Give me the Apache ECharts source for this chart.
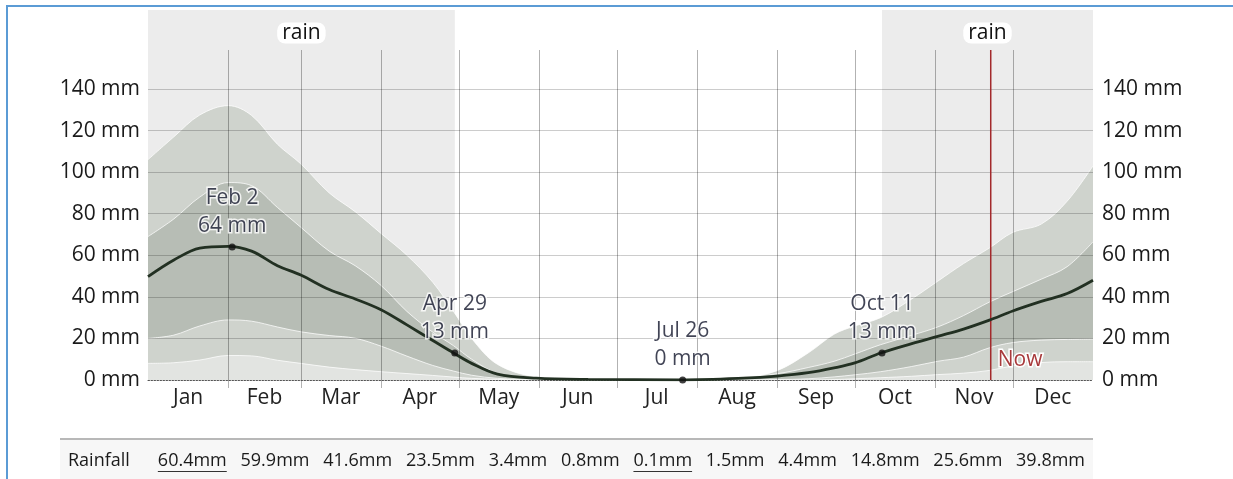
<!DOCTYPE html>
<html><head><meta charset="utf-8">
<script src="https://cdn.jsdelivr.net/npm/echarts@6/dist/echarts.min.js"></script>
<style>html,body{margin:0;padding:0;background:#fff;}#c{width:1233px;height:479px;}</style>
</head><body><div id="c"></div>
<script>
// ---------- data ----------
const months = ['Jan','Feb','Mar','Apr','May','Jun','Jul','Aug','Sep','Oct','Nov','Dec'];
const monthDays = [31,28,31,30,31,30,31,31,30,31,30,31];
const sampleDays = [0,10,20,31,40,50,59,70,80,90,100,110,118,125,135,150,170,206,230,243,255,265,273,283,295,305,315,325,334,345,355,365];
const meanRain = [49.7,57.7,63.5,64.3,62.0,55.0,50.5,43.5,39.0,33.8,26.5,19.0,13.0,8.0,2.8,0.9,0.3,0.1,0.9,1.9,3.5,5.8,8.2,13.0,17.5,21.0,24.5,28.8,33.2,37.8,41.6,48.0];
const p90Rain = [106,117,127.5,132,127.3,113.4,104,90,81,70.5,60,47,33,20,7.5,1.5,0.3,0.2,1.2,4.5,13,22,26,30,39,47.5,56,63.5,71,75,86,103];
const p75Rain = [69,77.5,88,95,93.5,83,73.5,62,55,45.5,33,23,16.5,10,3.2,0.8,0.2,0.1,1.5,3,6,9,12.5,17,21.5,25.5,31,37.5,42.5,48.5,54.5,66.5];
const p25Rain = [20,21.6,26,28.9,28.3,25.5,23.2,21.4,20.1,16.3,11.5,7,4.3,2.3,0.8,0.2,0,0,0,0.2,0.6,1.5,2.5,4,6.5,9,11,15.5,18,19.2,19.5,19.7];
const p10Rain = [8,8.3,9.6,11.8,11.6,9.5,8,6.2,5,4,3.1,2.2,1.4,0.8,0.3,0,0,0,0,0,0,0.2,0.6,1.1,1.8,2.6,3.3,4.6,6.8,8.4,8.8,8.8];
const annotationDates = ['Feb 2','Apr 29','Jul 26','Oct 11'];
const annotationValues = [64,13,0,13];
const rainEnd = 'Apr 29';
const rainStart = 'Oct 11';
const nowDate = 'Nov 22';
const tableLabel = 'Rainfall';
const monthlyRainfall = [60.4,59.9,41.6,23.5,3.4,0.8,0.1,1.5,4.4,14.8,25.6,39.8];

// ---------- helpers ----------
const FONT = '"Open Sans", "Noto Sans", sans-serif';
const monthStart = []; let acc = 0;
monthDays.forEach(d => { monthStart.push(acc); acc += d; });
const yearLen = acc;
const monthMid = monthStart.map((s, i) => s + monthDays[i] / 2);
function dayOf(str) { const [m, d] = str.split(' '); return monthStart[months.indexOf(m)] + (+d) - 0.5; }
const pairs = arr => sampleDays.map((d, i) => [d, arr[i]]);

const chart = echarts.init(document.getElementById('c'));

function bandSeries(arr, color) {
  return {
    type: 'line', data: pairs(arr), smooth: 0.35, showSymbol: false, silent: true, z: 1,
    lineStyle: { color: 'rgba(255,255,255,0.75)', width: 1 },
    areaStyle: { color: color, opacity: 1 }
  };
}

// ---------- table (graphic) ----------
const ctx = document.createElement('canvas').getContext('2d');
const tFont = '18px ' + FONT; ctx.font = tFont;
const items = [tableLabel].concat(monthlyRainfall.map(v => v.toFixed(1) + 'mm'));
const widths = items.map(t => ctx.measureText(t).width);
const rowLeft = 68, rowRight = 1085, labelGap = 28, rowY = 461;
const restW = widths.slice(1).reduce((a, b) => a + b, 0);
const gap = (rowRight - rowLeft - widths[0] - labelGap - restW) / (items.length - 2);
const maxI = monthlyRainfall.indexOf(Math.max(...monthlyRainfall)) + 1;
const minI = monthlyRainfall.indexOf(Math.min(...monthlyRainfall)) + 1;
const graphics = [
  { type: 'rect', shape: { x: 7, y: 6, width: 1400, height: 800 }, style: { fill: 'none', stroke: '#5b9bd5', lineWidth: 2 }, z: 10 },
  { type: 'rect', shape: { x: 60, y: 440, width: 1033, height: 40 }, style: { fill: '#f7f7f7' } },
  { type: 'line', shape: { x1: 60, y1: 439, x2: 1093, y2: 439 }, style: { stroke: '#b8b8b8', lineWidth: 2 } }
];
let cx = rowLeft;
items.forEach((t, i) => {
  graphics.push({ type: 'text', x: cx, y: rowY, style: { text: t, font: tFont, fill: '#1a1a1a', align: 'left', textAlign: 'left', verticalAlign: 'middle', textVerticalAlign: 'middle' } });
  if (i === maxI || i === minI) {
    graphics.push({ type: 'line', shape: { x1: cx, y1: rowY + 10.5, x2: cx + widths[i], y2: rowY + 10.5 }, style: { stroke: '#333', lineWidth: 1 } });
  }
  cx += widths[i] + (i === 0 ? labelGap : gap);
});

const option = {
  animation: false,
  backgroundColor: '#fff',
  textStyle: { fontFamily: FONT },
  grid: { left: 148, right: 140, top: 89, bottom: 99, containLabel: false, outerBoundsMode: 'none' },
  xAxis: {
    type: 'value', min: 0, max: yearLen, z: 4,
    splitLine: { show: false }, axisTick: { show: false },
    axisLine: { show: true, onZero: true, lineStyle: { color: '#555', width: 1, type: [1.5, 1.5] } },
    axisLabel: {
      customValues: monthMid, margin: 8, fontSize: 21, fontFamily: FONT, color: '#222',
      formatter: v => { let bi = 0; monthMid.forEach((m, i) => { if (Math.abs(m - v) < Math.abs(monthMid[bi] - v)) bi = i; }); return months[bi]; }
    }
  },
  yAxis: [
    { type: 'value', min: 0, max: 140, interval: 20, position: 'left', z: 3,
      axisLine: { show: false }, axisTick: { show: false },
      splitLine: { show: true, showMinLine: false, lineStyle: { color: 'rgba(0,0,0,0.2)', width: 1 } },
      axisLabel: { formatter: '{value} mm', fontSize: 21, fontFamily: FONT, color: '#1a1a1a', margin: 8 } },
    { type: 'value', min: 0, max: 140, interval: 20, position: 'right', z: 3,
      axisLine: { show: false }, axisTick: { show: false }, splitLine: { show: false },
      axisLabel: { formatter: '{value} mm', fontSize: 21, fontFamily: FONT, color: '#1a1a1a', margin: 9 } }
  ],
  series: [
    { type: 'custom', z: 0, clip: false, silent: true,
      data: [[0, dayOf(rainEnd)], [dayOf(rainStart), yearLen]],
      renderItem: (params, api) => {
        const cs = params.coordSys;
        const x0 = api.coord([api.value(0), 0])[0], x1 = api.coord([api.value(1), 0])[0];
        const bottom = cs.y + cs.height, top = cs.y - 79;
        return { type: 'group', children: [
          { type: 'rect', shape: { x: x0, y: top, width: x1 - x0, height: bottom - top }, style: { fill: '#ececec' } },
          { type: 'text', x: (x0 + x1) / 2, y: cs.y - 56, style: { text: 'rain', font: '21px ' + FONT, fill: '#111', align: 'center', textAlign: 'center', verticalAlign: 'middle', textVerticalAlign: 'middle', backgroundColor: '#fff', borderRadius: 8, padding: [0, 5] } }
        ] };
      }
    },
    bandSeries(p90Rain, '#cfd3cd'),
    bandSeries(p75Rain, '#b7bdb5'),
    bandSeries(p25Rain, '#cfd3cd'),
    bandSeries(p10Rain, '#e2e4e1'),
    { type: 'custom', z: 3, clip: false, silent: true,
      data: monthStart.slice(1).map(d => [d]),
      renderItem: (params, api) => {
        const cs = params.coordSys;
        const x = Math.round(api.coord([api.value(0), 0])[0]) + 0.5;
        return { type: 'line', shape: { x1: x, y1: cs.y - 39, x2: x, y2: cs.y + cs.height + 8 }, style: { stroke: 'rgba(0,0,0,0.3)', lineWidth: 1 } };
      }
    },
    { type: 'custom', z: 4, clip: false, silent: true,
      data: [[dayOf(nowDate)]],
      renderItem: (params, api) => {
        const cs = params.coordSys;
        const x = api.coord([api.value(0), 0])[0];
        const bottom = cs.y + cs.height;
        return { type: 'group', children: [
          { type: 'line', shape: { x1: x, y1: cs.y - 39, x2: x, y2: bottom }, style: { stroke: '#a3292b', lineWidth: 1.5 } },
          { type: 'text', x: x + 7, y: bottom - 20, style: { text: 'Now', font: '21px ' + FONT, fill: '#a83a3c', align: 'left', textAlign: 'left', verticalAlign: 'middle', textVerticalAlign: 'middle', stroke: '#fff', lineWidth: 3 } }
        ] };
      }
    },
    { type: 'line', data: pairs(meanRain), smooth: 0.35, showSymbol: false, silent: true, z: 5,
      lineStyle: { color: '#223022', width: 2.8 } },
    { type: 'scatter', z: 6, clip: false, silent: true,
      data: annotationDates.map((s, i) => [dayOf(s), annotationValues[i]]),
      symbolSize: 7, itemStyle: { color: '#111' },
      label: { show: true, position: 'top', distance: 3, fontSize: 21, fontFamily: FONT, color: '#12152a', lineHeight: 28,
        textBorderColor: '#fff', textBorderWidth: 3,
        formatter: p => annotationDates[p.dataIndex] + '\n' + annotationValues[p.dataIndex] + ' mm' } }
  ],
  graphic: graphics
};
chart.setOption(option);
</script></body></html>
